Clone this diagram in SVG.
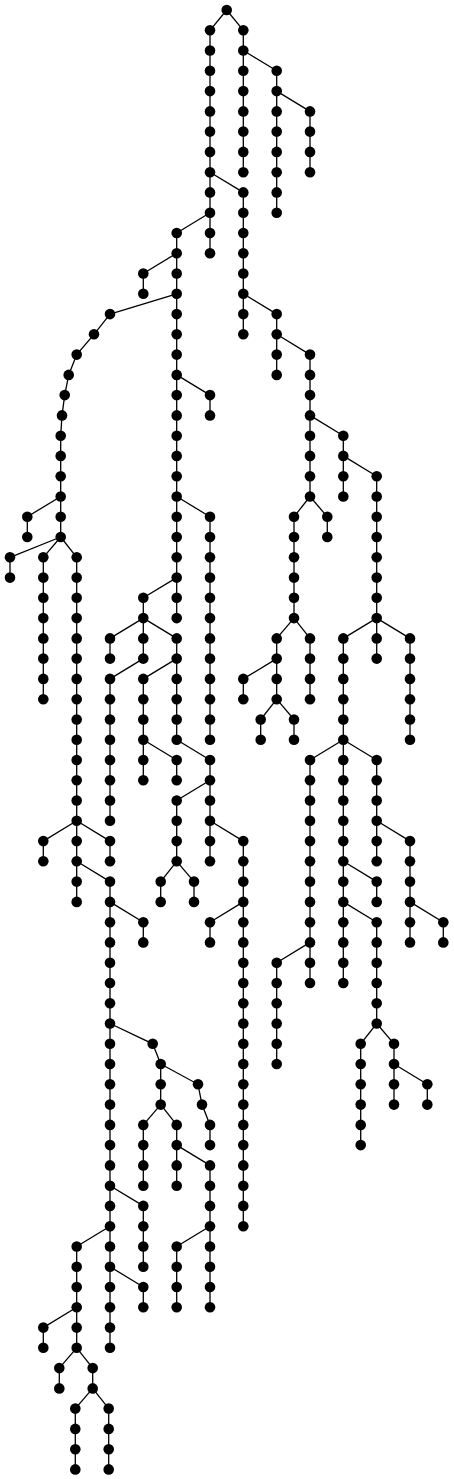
<svg xmlns="http://www.w3.org/2000/svg" width="454" height="1479" viewBox="0 0 454 1479">
<style>
.edges path,.edges line{stroke:#000;stroke-width:1.3;fill:none}
.node circle{fill:#000}
</style>
<rect width="454" height="1479" fill="#fff"/>
<g id="connectors" class="edges">
<!-- vertical chains -->
<path d="M210 30.3V253.2M243.3 30.3V172.2M276.7 70.8V212.7M310 111.4V172.2M243.3 192.4V334.3M276.7 314.1V374.9M310 354.6V496.5M343.3 435.7V496.5M376.7 476.2V658.6M294 516.8V618.1M327.3 516.8V537M276.7 638.4V699.2M310 638.4V699.2M243.3 678.9V699.2M260.7 719.5V739.7M294 719.5V739.7M343.3 638.4V983M410 638.4V739.7M310 760V983M376.7 760V861.3M410 841.1V942.4M443.3 922.2V942.4M376.7 881.6V901.9M376.7 922.2V1023.5M360.7 1043.8V1145.1M394 1043.8V1104.6M427.3 1084.3V1104.6M276.7 962.7V1064"/>
<path d="M176.7 233V618.1M143.3 273.5V293.8M210 395.1V415.4M210 516.8V739.7M143.3 597.8V658.6M110 638.4V658.6M176.7 638.4V739.7M110 678.9V820.8M143.3 678.9V780.3M176.7 760V780.3M210 760V861.3M176.7 800.5V861.3M160.7 881.6V901.9M194 881.6V901.9M243.3 841.1V1226.2M210 922.2V942.4"/>
<path d="M60.7 435.7V537M27.3 516.8V537M10 557.3V577.6M43.3 557.3V699.2M76.7 557.3V901.9M43.3 841.1V861.3M110 841.1V861.3M110 881.6V1347.8M143.3 922.2V942.4M160.7 1064V1104.6M210 1124.9V1145.1M143.3 1124.9V1185.7M176.7 1124.9V1185.7M210 1165.4V1307.3M176.7 1246.5V1307.3M143.3 1205.9V1266.7M76.7 1246.5V1347.8M143.3 1287V1307.3M43.3 1327.6V1347.8M59.3 1368.1V1388.4M92.7 1368.1V1388.4M75.3 1408.6V1469.4M108.7 1408.6V1469.4"/>
<!-- branch edges -->
<line x1="226.7" y1="10" x2="210" y2="30.3"/>
<line x1="226.7" y1="10" x2="243.3" y2="30.3"/>
<line x1="243.3" y1="50.5" x2="276.7" y2="70.8"/>
<line x1="276.7" y1="91.1" x2="310" y2="111.4"/>
<line x1="210" y1="172.2" x2="243.3" y2="192.4"/>
<line x1="210" y1="212.7" x2="176.7" y2="233"/>
<line x1="243.3" y1="293.8" x2="276.7" y2="314.1"/>
<line x1="276.7" y1="334.3" x2="310" y2="354.6"/>
<line x1="310" y1="415.4" x2="343.3" y2="435.7"/>
<line x1="343.3" y1="455.9" x2="376.7" y2="476.2"/>
<line x1="310" y1="496.5" x2="294" y2="516.8"/>
<line x1="310" y1="496.5" x2="327.3" y2="516.8"/>
<line x1="294" y1="618.1" x2="276.7" y2="638.4"/>
<line x1="294" y1="618.1" x2="310" y2="638.4"/>
<line x1="376.7" y1="618.1" x2="343.3" y2="638.4"/>
<line x1="376.7" y1="618.1" x2="410" y2="638.4"/>
<line x1="276.7" y1="658.6" x2="243.3" y2="678.9"/>
<line x1="276.7" y1="699.2" x2="260.7" y2="719.5"/>
<line x1="276.7" y1="699.2" x2="294" y2="719.5"/>
<line x1="343.3" y1="739.7" x2="310" y2="760"/>
<line x1="343.3" y1="739.7" x2="376.7" y2="760"/>
<line x1="376.7" y1="820.8" x2="410" y2="841.1"/>
<line x1="343.3" y1="861.3" x2="376.7" y2="881.6"/>
<line x1="343.3" y1="901.9" x2="376.7" y2="922.2"/>
<line x1="410" y1="901.9" x2="443.3" y2="922.2"/>
<line x1="310" y1="942.4" x2="276.7" y2="962.7"/>
<line x1="376.7" y1="1023.5" x2="360.7" y2="1043.8"/>
<line x1="376.7" y1="1023.5" x2="394" y2="1043.8"/>
<line x1="394" y1="1064" x2="427.3" y2="1084.3"/>
<line x1="176.7" y1="253.2" x2="143.3" y2="273.5"/>
<line x1="176.7" y1="293.8" x2="110" y2="314.1"/>
<line x1="176.7" y1="374.9" x2="210" y2="395.1"/>
<line x1="176.7" y1="496.5" x2="210" y2="516.8"/>
<line x1="176.7" y1="577.6" x2="143.3" y2="597.8"/>
<line x1="143.3" y1="618.1" x2="110" y2="638.4"/>
<line x1="143.3" y1="618.1" x2="176.7" y2="638.4"/>
<line x1="143.3" y1="658.6" x2="110" y2="678.9"/>
<line x1="176.7" y1="658.6" x2="143.3" y2="678.9"/>
<line x1="176.7" y1="739.7" x2="210" y2="760"/>
<line x1="143.3" y1="739.7" x2="176.7" y2="760"/>
<line x1="210" y1="780.3" x2="176.7" y2="800.5"/>
<line x1="210" y1="820.8" x2="243.3" y2="841.1"/>
<line x1="176.7" y1="861.3" x2="160.7" y2="881.6"/>
<line x1="176.7" y1="861.3" x2="194" y2="881.6"/>
<line x1="243.3" y1="901.9" x2="210" y2="922.2"/>
<path d="M110 314.1L94 334.3L76.7 354.6L68.7 374.9L64.7 395.1L62 415.4L60.7 435.7"/>
<line x1="60.7" y1="496.5" x2="27.3" y2="516.8"/>
<line x1="60.7" y1="537" x2="10" y2="557.3"/>
<line x1="60.7" y1="537" x2="43.3" y2="557.3"/>
<line x1="60.7" y1="537" x2="76.7" y2="557.3"/>
<line x1="76.7" y1="820.8" x2="43.3" y2="841.1"/>
<line x1="76.7" y1="820.8" x2="110" y2="841.1"/>
<line x1="76.7" y1="861.3" x2="110" y2="881.6"/>
<line x1="110" y1="901.9" x2="143.3" y2="922.2"/>
<path d="M110 1023.5L152.7 1043.8L160.7 1064"/>
<path d="M160.7 1064L198 1084.3L202 1104.6L210 1124.9"/>
<line x1="160.7" y1="1104.6" x2="143.3" y2="1124.9"/>
<line x1="160.7" y1="1104.6" x2="176.7" y2="1124.9"/>
<line x1="176.7" y1="1145.1" x2="210" y2="1165.4"/>
<line x1="210" y1="1226.2" x2="176.7" y2="1246.5"/>
<line x1="110" y1="1185.7" x2="143.3" y2="1205.9"/>
<line x1="110" y1="1226.2" x2="76.7" y2="1246.5"/>
<line x1="110" y1="1266.7" x2="143.3" y2="1287"/>
<line x1="76.7" y1="1307.3" x2="43.3" y2="1327.6"/>
<line x1="76.7" y1="1347.8" x2="59.3" y2="1368.1"/>
<line x1="76.7" y1="1347.8" x2="92.7" y2="1368.1"/>
<line x1="92.7" y1="1388.4" x2="75.3" y2="1408.6"/>
<line x1="92.7" y1="1388.4" x2="108.7" y2="1408.6"/>
</g>
<g id="nodes" class="node">
<g id="n1"><circle cx="226.7" cy="10" r="5.3"/></g>
<g id="n2"><circle cx="210" cy="30.3" r="5.3"/></g>
<g id="n3"><circle cx="210" cy="50.5" r="5.3"/></g>
<g id="n4"><circle cx="210" cy="70.8" r="5.3"/></g>
<g id="n5"><circle cx="210" cy="91.1" r="5.3"/></g>
<g id="n6"><circle cx="210" cy="111.4" r="5.3"/></g>
<g id="n7"><circle cx="210" cy="131.6" r="5.3"/></g>
<g id="n8"><circle cx="210" cy="151.9" r="5.3"/></g>
<g id="n9"><circle cx="210" cy="172.2" r="5.3"/></g>
<g id="n10"><circle cx="210" cy="192.4" r="5.3"/></g>
<g id="n11"><circle cx="210" cy="212.7" r="5.3"/></g>
<g id="n12"><circle cx="210" cy="233" r="5.3"/></g>
<g id="n13"><circle cx="210" cy="253.2" r="5.3"/></g>
<g id="n14"><circle cx="243.3" cy="30.3" r="5.3"/></g>
<g id="n15"><circle cx="243.3" cy="50.5" r="5.3"/></g>
<g id="n16"><circle cx="243.3" cy="70.8" r="5.3"/></g>
<g id="n17"><circle cx="243.3" cy="91.1" r="5.3"/></g>
<g id="n18"><circle cx="243.3" cy="111.4" r="5.3"/></g>
<g id="n19"><circle cx="243.3" cy="131.6" r="5.3"/></g>
<g id="n20"><circle cx="243.3" cy="151.9" r="5.3"/></g>
<g id="n21"><circle cx="243.3" cy="172.2" r="5.3"/></g>
<g id="n22"><circle cx="276.7" cy="70.8" r="5.3"/></g>
<g id="n23"><circle cx="276.7" cy="91.1" r="5.3"/></g>
<g id="n24"><circle cx="276.7" cy="111.4" r="5.3"/></g>
<g id="n25"><circle cx="276.7" cy="131.6" r="5.3"/></g>
<g id="n26"><circle cx="276.7" cy="151.9" r="5.3"/></g>
<g id="n27"><circle cx="276.7" cy="172.2" r="5.3"/></g>
<g id="n28"><circle cx="276.7" cy="192.4" r="5.3"/></g>
<g id="n29"><circle cx="276.7" cy="212.7" r="5.3"/></g>
<g id="n30"><circle cx="310" cy="111.4" r="5.3"/></g>
<g id="n31"><circle cx="310" cy="131.6" r="5.3"/></g>
<g id="n32"><circle cx="310" cy="151.9" r="5.3"/></g>
<g id="n33"><circle cx="310" cy="172.2" r="5.3"/></g>
<g id="n34"><circle cx="243.3" cy="192.4" r="5.3"/></g>
<g id="n35"><circle cx="243.3" cy="212.7" r="5.3"/></g>
<g id="n36"><circle cx="243.3" cy="233" r="5.3"/></g>
<g id="n37"><circle cx="243.3" cy="253.2" r="5.3"/></g>
<g id="n38"><circle cx="243.3" cy="273.5" r="5.3"/></g>
<g id="n39"><circle cx="243.3" cy="293.8" r="5.3"/></g>
<g id="n40"><circle cx="243.3" cy="314.1" r="5.3"/></g>
<g id="n41"><circle cx="243.3" cy="334.3" r="5.3"/></g>
<g id="n42"><circle cx="276.7" cy="314.1" r="5.3"/></g>
<g id="n43"><circle cx="276.7" cy="334.3" r="5.3"/></g>
<g id="n44"><circle cx="276.7" cy="354.6" r="5.3"/></g>
<g id="n45"><circle cx="276.7" cy="374.9" r="5.3"/></g>
<g id="n46"><circle cx="310" cy="354.6" r="5.3"/></g>
<g id="n47"><circle cx="310" cy="374.9" r="5.3"/></g>
<g id="n48"><circle cx="310" cy="395.1" r="5.3"/></g>
<g id="n49"><circle cx="310" cy="415.4" r="5.3"/></g>
<g id="n50"><circle cx="310" cy="435.7" r="5.3"/></g>
<g id="n51"><circle cx="310" cy="455.9" r="5.3"/></g>
<g id="n52"><circle cx="310" cy="476.2" r="5.3"/></g>
<g id="n53"><circle cx="310" cy="496.5" r="5.3"/></g>
<g id="n54"><circle cx="343.3" cy="435.7" r="5.3"/></g>
<g id="n55"><circle cx="343.3" cy="455.9" r="5.3"/></g>
<g id="n56"><circle cx="343.3" cy="476.2" r="5.3"/></g>
<g id="n57"><circle cx="343.3" cy="496.5" r="5.3"/></g>
<g id="n58"><circle cx="376.7" cy="476.2" r="5.3"/></g>
<g id="n59"><circle cx="376.7" cy="496.5" r="5.3"/></g>
<g id="n60"><circle cx="376.7" cy="516.8" r="5.3"/></g>
<g id="n61"><circle cx="376.7" cy="537" r="5.3"/></g>
<g id="n62"><circle cx="376.7" cy="557.3" r="5.3"/></g>
<g id="n63"><circle cx="376.7" cy="577.6" r="5.3"/></g>
<g id="n64"><circle cx="376.7" cy="597.8" r="5.3"/></g>
<g id="n65"><circle cx="376.7" cy="618.1" r="5.3"/></g>
<g id="n66"><circle cx="376.7" cy="638.4" r="5.3"/></g>
<g id="n67"><circle cx="376.7" cy="658.6" r="5.3"/></g>
<g id="n68"><circle cx="294" cy="516.8" r="5.3"/></g>
<g id="n69"><circle cx="294" cy="537" r="5.3"/></g>
<g id="n70"><circle cx="294" cy="557.3" r="5.3"/></g>
<g id="n71"><circle cx="294" cy="577.6" r="5.3"/></g>
<g id="n72"><circle cx="294" cy="597.8" r="5.3"/></g>
<g id="n73"><circle cx="294" cy="618.1" r="5.3"/></g>
<g id="n74"><circle cx="327.3" cy="516.8" r="5.3"/></g>
<g id="n75"><circle cx="327.3" cy="537" r="5.3"/></g>
<g id="n76"><circle cx="276.7" cy="638.4" r="5.3"/></g>
<g id="n77"><circle cx="276.7" cy="658.6" r="5.3"/></g>
<g id="n78"><circle cx="276.7" cy="678.9" r="5.3"/></g>
<g id="n79"><circle cx="276.7" cy="699.2" r="5.3"/></g>
<g id="n80"><circle cx="310" cy="638.4" r="5.3"/></g>
<g id="n81"><circle cx="310" cy="658.6" r="5.3"/></g>
<g id="n82"><circle cx="310" cy="678.9" r="5.3"/></g>
<g id="n83"><circle cx="310" cy="699.2" r="5.3"/></g>
<g id="n84"><circle cx="243.3" cy="678.9" r="5.3"/></g>
<g id="n85"><circle cx="243.3" cy="699.2" r="5.3"/></g>
<g id="n86"><circle cx="260.7" cy="719.5" r="5.3"/></g>
<g id="n87"><circle cx="260.7" cy="739.7" r="5.3"/></g>
<g id="n88"><circle cx="294" cy="719.5" r="5.3"/></g>
<g id="n89"><circle cx="294" cy="739.7" r="5.3"/></g>
<g id="n90"><circle cx="343.3" cy="638.4" r="5.3"/></g>
<g id="n91"><circle cx="343.3" cy="658.6" r="5.3"/></g>
<g id="n92"><circle cx="343.3" cy="678.9" r="5.3"/></g>
<g id="n93"><circle cx="343.3" cy="699.2" r="5.3"/></g>
<g id="n94"><circle cx="343.3" cy="719.5" r="5.3"/></g>
<g id="n95"><circle cx="343.3" cy="739.7" r="5.3"/></g>
<g id="n96"><circle cx="343.3" cy="760" r="5.3"/></g>
<g id="n97"><circle cx="343.3" cy="780.3" r="5.3"/></g>
<g id="n98"><circle cx="343.3" cy="800.5" r="5.3"/></g>
<g id="n99"><circle cx="343.3" cy="820.8" r="5.3"/></g>
<g id="n100"><circle cx="343.3" cy="841.1" r="5.3"/></g>
<g id="n101"><circle cx="343.3" cy="861.3" r="5.3"/></g>
<g id="n102"><circle cx="343.3" cy="881.6" r="5.3"/></g>
<g id="n103"><circle cx="343.3" cy="901.9" r="5.3"/></g>
<g id="n104"><circle cx="343.3" cy="922.2" r="5.3"/></g>
<g id="n105"><circle cx="343.3" cy="942.4" r="5.3"/></g>
<g id="n106"><circle cx="343.3" cy="962.7" r="5.3"/></g>
<g id="n107"><circle cx="343.3" cy="983" r="5.3"/></g>
<g id="n108"><circle cx="410" cy="638.4" r="5.3"/></g>
<g id="n109"><circle cx="410" cy="658.6" r="5.3"/></g>
<g id="n110"><circle cx="410" cy="678.9" r="5.3"/></g>
<g id="n111"><circle cx="410" cy="699.2" r="5.3"/></g>
<g id="n112"><circle cx="410" cy="719.5" r="5.3"/></g>
<g id="n113"><circle cx="410" cy="739.7" r="5.3"/></g>
<g id="n114"><circle cx="310" cy="760" r="5.3"/></g>
<g id="n115"><circle cx="310" cy="780.3" r="5.3"/></g>
<g id="n116"><circle cx="310" cy="800.5" r="5.3"/></g>
<g id="n117"><circle cx="310" cy="820.8" r="5.3"/></g>
<g id="n118"><circle cx="310" cy="841.1" r="5.3"/></g>
<g id="n119"><circle cx="310" cy="861.3" r="5.3"/></g>
<g id="n120"><circle cx="310" cy="881.6" r="5.3"/></g>
<g id="n121"><circle cx="310" cy="901.9" r="5.3"/></g>
<g id="n122"><circle cx="310" cy="922.2" r="5.3"/></g>
<g id="n123"><circle cx="310" cy="942.4" r="5.3"/></g>
<g id="n124"><circle cx="310" cy="962.7" r="5.3"/></g>
<g id="n125"><circle cx="310" cy="983" r="5.3"/></g>
<g id="n126"><circle cx="376.7" cy="760" r="5.3"/></g>
<g id="n127"><circle cx="376.7" cy="780.3" r="5.3"/></g>
<g id="n128"><circle cx="376.7" cy="800.5" r="5.3"/></g>
<g id="n129"><circle cx="376.7" cy="820.8" r="5.3"/></g>
<g id="n130"><circle cx="376.7" cy="841.1" r="5.3"/></g>
<g id="n131"><circle cx="376.7" cy="861.3" r="5.3"/></g>
<g id="n132"><circle cx="410" cy="841.1" r="5.3"/></g>
<g id="n133"><circle cx="410" cy="861.3" r="5.3"/></g>
<g id="n134"><circle cx="410" cy="881.6" r="5.3"/></g>
<g id="n135"><circle cx="410" cy="901.9" r="5.3"/></g>
<g id="n136"><circle cx="410" cy="922.2" r="5.3"/></g>
<g id="n137"><circle cx="410" cy="942.4" r="5.3"/></g>
<g id="n138"><circle cx="443.3" cy="922.2" r="5.3"/></g>
<g id="n139"><circle cx="443.3" cy="942.4" r="5.3"/></g>
<g id="n140"><circle cx="376.7" cy="881.6" r="5.3"/></g>
<g id="n141"><circle cx="376.7" cy="901.9" r="5.3"/></g>
<g id="n142"><circle cx="376.7" cy="922.2" r="5.3"/></g>
<g id="n143"><circle cx="376.7" cy="942.4" r="5.3"/></g>
<g id="n144"><circle cx="376.7" cy="962.7" r="5.3"/></g>
<g id="n145"><circle cx="376.7" cy="983" r="5.3"/></g>
<g id="n146"><circle cx="376.7" cy="1003.2" r="5.3"/></g>
<g id="n147"><circle cx="376.7" cy="1023.5" r="5.3"/></g>
<g id="n148"><circle cx="360.7" cy="1043.8" r="5.3"/></g>
<g id="n149"><circle cx="360.7" cy="1064" r="5.3"/></g>
<g id="n150"><circle cx="360.7" cy="1084.3" r="5.3"/></g>
<g id="n151"><circle cx="360.7" cy="1104.6" r="5.3"/></g>
<g id="n152"><circle cx="360.7" cy="1124.9" r="5.3"/></g>
<g id="n153"><circle cx="360.7" cy="1145.1" r="5.3"/></g>
<g id="n154"><circle cx="394" cy="1043.8" r="5.3"/></g>
<g id="n155"><circle cx="394" cy="1064" r="5.3"/></g>
<g id="n156"><circle cx="394" cy="1084.3" r="5.3"/></g>
<g id="n157"><circle cx="394" cy="1104.6" r="5.3"/></g>
<g id="n158"><circle cx="427.3" cy="1084.3" r="5.3"/></g>
<g id="n159"><circle cx="427.3" cy="1104.6" r="5.3"/></g>
<g id="n160"><circle cx="276.7" cy="962.7" r="5.3"/></g>
<g id="n161"><circle cx="276.7" cy="983" r="5.3"/></g>
<g id="n162"><circle cx="276.7" cy="1003.2" r="5.3"/></g>
<g id="n163"><circle cx="276.7" cy="1023.5" r="5.3"/></g>
<g id="n164"><circle cx="276.7" cy="1043.8" r="5.3"/></g>
<g id="n165"><circle cx="276.7" cy="1064" r="5.3"/></g>
<g id="n166"><circle cx="176.7" cy="233" r="5.3"/></g>
<g id="n167"><circle cx="176.7" cy="253.2" r="5.3"/></g>
<g id="n168"><circle cx="176.7" cy="273.5" r="5.3"/></g>
<g id="n169"><circle cx="176.7" cy="293.8" r="5.3"/></g>
<g id="n170"><circle cx="176.7" cy="314.1" r="5.3"/></g>
<g id="n171"><circle cx="176.7" cy="334.3" r="5.3"/></g>
<g id="n172"><circle cx="176.7" cy="354.6" r="5.3"/></g>
<g id="n173"><circle cx="176.7" cy="374.9" r="5.3"/></g>
<g id="n174"><circle cx="176.7" cy="395.1" r="5.3"/></g>
<g id="n175"><circle cx="176.7" cy="415.4" r="5.3"/></g>
<g id="n176"><circle cx="176.7" cy="435.7" r="5.3"/></g>
<g id="n177"><circle cx="176.7" cy="455.9" r="5.3"/></g>
<g id="n178"><circle cx="176.7" cy="476.2" r="5.3"/></g>
<g id="n179"><circle cx="176.7" cy="496.5" r="5.3"/></g>
<g id="n180"><circle cx="176.7" cy="516.8" r="5.3"/></g>
<g id="n181"><circle cx="176.7" cy="537" r="5.3"/></g>
<g id="n182"><circle cx="176.7" cy="557.3" r="5.3"/></g>
<g id="n183"><circle cx="176.7" cy="577.6" r="5.3"/></g>
<g id="n184"><circle cx="176.7" cy="597.8" r="5.3"/></g>
<g id="n185"><circle cx="176.7" cy="618.1" r="5.3"/></g>
<g id="n186"><circle cx="143.3" cy="273.5" r="5.3"/></g>
<g id="n187"><circle cx="143.3" cy="293.8" r="5.3"/></g>
<g id="n188"><circle cx="210" cy="395.1" r="5.3"/></g>
<g id="n189"><circle cx="210" cy="415.4" r="5.3"/></g>
<g id="n190"><circle cx="210" cy="516.8" r="5.3"/></g>
<g id="n191"><circle cx="210" cy="537" r="5.3"/></g>
<g id="n192"><circle cx="210" cy="557.3" r="5.3"/></g>
<g id="n193"><circle cx="210" cy="577.6" r="5.3"/></g>
<g id="n194"><circle cx="210" cy="597.8" r="5.3"/></g>
<g id="n195"><circle cx="210" cy="618.1" r="5.3"/></g>
<g id="n196"><circle cx="210" cy="638.4" r="5.3"/></g>
<g id="n197"><circle cx="210" cy="658.6" r="5.3"/></g>
<g id="n198"><circle cx="210" cy="678.9" r="5.3"/></g>
<g id="n199"><circle cx="210" cy="699.2" r="5.3"/></g>
<g id="n200"><circle cx="210" cy="719.5" r="5.3"/></g>
<g id="n201"><circle cx="210" cy="739.7" r="5.3"/></g>
<g id="n202"><circle cx="143.3" cy="597.8" r="5.3"/></g>
<g id="n203"><circle cx="143.3" cy="618.1" r="5.3"/></g>
<g id="n204"><circle cx="143.3" cy="638.4" r="5.3"/></g>
<g id="n205"><circle cx="143.3" cy="658.6" r="5.3"/></g>
<g id="n206"><circle cx="110" cy="638.4" r="5.3"/></g>
<g id="n207"><circle cx="110" cy="658.6" r="5.3"/></g>
<g id="n208"><circle cx="176.7" cy="638.4" r="5.3"/></g>
<g id="n209"><circle cx="176.7" cy="658.6" r="5.3"/></g>
<g id="n210"><circle cx="176.7" cy="678.9" r="5.3"/></g>
<g id="n211"><circle cx="176.7" cy="699.2" r="5.3"/></g>
<g id="n212"><circle cx="176.7" cy="719.5" r="5.3"/></g>
<g id="n213"><circle cx="176.7" cy="739.7" r="5.3"/></g>
<g id="n214"><circle cx="110" cy="678.9" r="5.3"/></g>
<g id="n215"><circle cx="110" cy="699.2" r="5.3"/></g>
<g id="n216"><circle cx="110" cy="719.5" r="5.3"/></g>
<g id="n217"><circle cx="110" cy="739.7" r="5.3"/></g>
<g id="n218"><circle cx="110" cy="760" r="5.3"/></g>
<g id="n219"><circle cx="110" cy="780.3" r="5.3"/></g>
<g id="n220"><circle cx="110" cy="800.5" r="5.3"/></g>
<g id="n221"><circle cx="110" cy="820.8" r="5.3"/></g>
<g id="n222"><circle cx="143.3" cy="678.9" r="5.3"/></g>
<g id="n223"><circle cx="143.3" cy="699.2" r="5.3"/></g>
<g id="n224"><circle cx="143.3" cy="719.5" r="5.3"/></g>
<g id="n225"><circle cx="143.3" cy="739.7" r="5.3"/></g>
<g id="n226"><circle cx="143.3" cy="760" r="5.3"/></g>
<g id="n227"><circle cx="143.3" cy="780.3" r="5.3"/></g>
<g id="n228"><circle cx="176.7" cy="760" r="5.3"/></g>
<g id="n229"><circle cx="176.7" cy="780.3" r="5.3"/></g>
<g id="n230"><circle cx="210" cy="760" r="5.3"/></g>
<g id="n231"><circle cx="210" cy="780.3" r="5.3"/></g>
<g id="n232"><circle cx="210" cy="800.5" r="5.3"/></g>
<g id="n233"><circle cx="210" cy="820.8" r="5.3"/></g>
<g id="n234"><circle cx="210" cy="841.1" r="5.3"/></g>
<g id="n235"><circle cx="210" cy="861.3" r="5.3"/></g>
<g id="n236"><circle cx="176.7" cy="800.5" r="5.3"/></g>
<g id="n237"><circle cx="176.7" cy="820.8" r="5.3"/></g>
<g id="n238"><circle cx="176.7" cy="841.1" r="5.3"/></g>
<g id="n239"><circle cx="176.7" cy="861.3" r="5.3"/></g>
<g id="n240"><circle cx="160.7" cy="881.6" r="5.3"/></g>
<g id="n241"><circle cx="160.7" cy="901.9" r="5.3"/></g>
<g id="n242"><circle cx="194" cy="881.6" r="5.3"/></g>
<g id="n243"><circle cx="194" cy="901.9" r="5.3"/></g>
<g id="n244"><circle cx="243.3" cy="841.1" r="5.3"/></g>
<g id="n245"><circle cx="243.3" cy="861.3" r="5.3"/></g>
<g id="n246"><circle cx="243.3" cy="881.6" r="5.3"/></g>
<g id="n247"><circle cx="243.3" cy="901.9" r="5.3"/></g>
<g id="n248"><circle cx="243.3" cy="922.2" r="5.3"/></g>
<g id="n249"><circle cx="243.3" cy="942.4" r="5.3"/></g>
<g id="n250"><circle cx="243.3" cy="962.7" r="5.3"/></g>
<g id="n251"><circle cx="243.3" cy="983" r="5.3"/></g>
<g id="n252"><circle cx="243.3" cy="1003.2" r="5.3"/></g>
<g id="n253"><circle cx="243.3" cy="1023.5" r="5.3"/></g>
<g id="n254"><circle cx="243.3" cy="1043.8" r="5.3"/></g>
<g id="n255"><circle cx="243.3" cy="1064" r="5.3"/></g>
<g id="n256"><circle cx="243.3" cy="1084.3" r="5.3"/></g>
<g id="n257"><circle cx="243.3" cy="1104.6" r="5.3"/></g>
<g id="n258"><circle cx="243.3" cy="1124.9" r="5.3"/></g>
<g id="n259"><circle cx="243.3" cy="1145.1" r="5.3"/></g>
<g id="n260"><circle cx="243.3" cy="1165.4" r="5.3"/></g>
<g id="n261"><circle cx="243.3" cy="1185.7" r="5.3"/></g>
<g id="n262"><circle cx="243.3" cy="1205.9" r="5.3"/></g>
<g id="n263"><circle cx="243.3" cy="1226.2" r="5.3"/></g>
<g id="n264"><circle cx="210" cy="922.2" r="5.3"/></g>
<g id="n265"><circle cx="210" cy="942.4" r="5.3"/></g>
<g id="n266"><circle cx="110" cy="314.1" r="5.3"/></g>
<g id="n267"><circle cx="94" cy="334.3" r="5.3"/></g>
<g id="n268"><circle cx="76.7" cy="354.6" r="5.3"/></g>
<g id="n269"><circle cx="68.7" cy="374.9" r="5.3"/></g>
<g id="n270"><circle cx="64.7" cy="395.1" r="5.3"/></g>
<g id="n271"><circle cx="62" cy="415.4" r="5.3"/></g>
<g id="n272"><circle cx="60.7" cy="435.7" r="5.3"/></g>
<g id="n273"><circle cx="60.7" cy="455.9" r="5.3"/></g>
<g id="n274"><circle cx="60.7" cy="476.2" r="5.3"/></g>
<g id="n275"><circle cx="60.7" cy="496.5" r="5.3"/></g>
<g id="n276"><circle cx="60.7" cy="516.8" r="5.3"/></g>
<g id="n277"><circle cx="60.7" cy="537" r="5.3"/></g>
<g id="n278"><circle cx="27.3" cy="516.8" r="5.3"/></g>
<g id="n279"><circle cx="27.3" cy="537" r="5.3"/></g>
<g id="n280"><circle cx="10" cy="557.3" r="5.3"/></g>
<g id="n281"><circle cx="10" cy="577.6" r="5.3"/></g>
<g id="n282"><circle cx="43.3" cy="557.3" r="5.3"/></g>
<g id="n283"><circle cx="43.3" cy="577.6" r="5.3"/></g>
<g id="n284"><circle cx="43.3" cy="597.8" r="5.3"/></g>
<g id="n285"><circle cx="43.3" cy="618.1" r="5.3"/></g>
<g id="n286"><circle cx="43.3" cy="638.4" r="5.3"/></g>
<g id="n287"><circle cx="43.3" cy="658.6" r="5.3"/></g>
<g id="n288"><circle cx="43.3" cy="678.9" r="5.3"/></g>
<g id="n289"><circle cx="43.3" cy="699.2" r="5.3"/></g>
<g id="n290"><circle cx="76.7" cy="557.3" r="5.3"/></g>
<g id="n291"><circle cx="76.7" cy="577.6" r="5.3"/></g>
<g id="n292"><circle cx="76.7" cy="597.8" r="5.3"/></g>
<g id="n293"><circle cx="76.7" cy="618.1" r="5.3"/></g>
<g id="n294"><circle cx="76.7" cy="638.4" r="5.3"/></g>
<g id="n295"><circle cx="76.7" cy="658.6" r="5.3"/></g>
<g id="n296"><circle cx="76.7" cy="678.9" r="5.3"/></g>
<g id="n297"><circle cx="76.7" cy="699.2" r="5.3"/></g>
<g id="n298"><circle cx="76.7" cy="719.5" r="5.3"/></g>
<g id="n299"><circle cx="76.7" cy="739.7" r="5.3"/></g>
<g id="n300"><circle cx="76.7" cy="760" r="5.3"/></g>
<g id="n301"><circle cx="76.7" cy="780.3" r="5.3"/></g>
<g id="n302"><circle cx="76.7" cy="800.5" r="5.3"/></g>
<g id="n303"><circle cx="76.7" cy="820.8" r="5.3"/></g>
<g id="n304"><circle cx="76.7" cy="841.1" r="5.3"/></g>
<g id="n305"><circle cx="76.7" cy="861.3" r="5.3"/></g>
<g id="n306"><circle cx="76.7" cy="881.6" r="5.3"/></g>
<g id="n307"><circle cx="76.7" cy="901.9" r="5.3"/></g>
<g id="n308"><circle cx="43.3" cy="841.1" r="5.3"/></g>
<g id="n309"><circle cx="43.3" cy="861.3" r="5.3"/></g>
<g id="n310"><circle cx="110" cy="841.1" r="5.3"/></g>
<g id="n311"><circle cx="110" cy="861.3" r="5.3"/></g>
<g id="n312"><circle cx="110" cy="881.6" r="5.3"/></g>
<g id="n313"><circle cx="110" cy="901.9" r="5.3"/></g>
<g id="n314"><circle cx="110" cy="922.2" r="5.3"/></g>
<g id="n315"><circle cx="110" cy="942.4" r="5.3"/></g>
<g id="n316"><circle cx="110" cy="962.7" r="5.3"/></g>
<g id="n317"><circle cx="110" cy="983" r="5.3"/></g>
<g id="n318"><circle cx="110" cy="1003.2" r="5.3"/></g>
<g id="n319"><circle cx="110" cy="1023.5" r="5.3"/></g>
<g id="n320"><circle cx="110" cy="1043.8" r="5.3"/></g>
<g id="n321"><circle cx="110" cy="1064" r="5.3"/></g>
<g id="n322"><circle cx="110" cy="1084.3" r="5.3"/></g>
<g id="n323"><circle cx="110" cy="1104.6" r="5.3"/></g>
<g id="n324"><circle cx="110" cy="1124.9" r="5.3"/></g>
<g id="n325"><circle cx="110" cy="1145.1" r="5.3"/></g>
<g id="n326"><circle cx="110" cy="1165.4" r="5.3"/></g>
<g id="n327"><circle cx="110" cy="1185.7" r="5.3"/></g>
<g id="n328"><circle cx="110" cy="1205.9" r="5.3"/></g>
<g id="n329"><circle cx="110" cy="1226.2" r="5.3"/></g>
<g id="n330"><circle cx="110" cy="1246.5" r="5.3"/></g>
<g id="n331"><circle cx="110" cy="1266.7" r="5.3"/></g>
<g id="n332"><circle cx="110" cy="1287" r="5.3"/></g>
<g id="n333"><circle cx="110" cy="1307.3" r="5.3"/></g>
<g id="n334"><circle cx="110" cy="1327.6" r="5.3"/></g>
<g id="n335"><circle cx="110" cy="1347.8" r="5.3"/></g>
<g id="n336"><circle cx="143.3" cy="922.2" r="5.3"/></g>
<g id="n337"><circle cx="143.3" cy="942.4" r="5.3"/></g>
<g id="n338"><circle cx="152.7" cy="1043.8" r="5.3"/></g>
<g id="n339"><circle cx="160.7" cy="1064" r="5.3"/></g>
<g id="n340"><circle cx="160.7" cy="1084.3" r="5.3"/></g>
<g id="n341"><circle cx="160.7" cy="1104.6" r="5.3"/></g>
<g id="n342"><circle cx="198" cy="1084.3" r="5.3"/></g>
<g id="n343"><circle cx="202" cy="1104.6" r="5.3"/></g>
<g id="n344"><circle cx="210" cy="1124.9" r="5.3"/></g>
<g id="n345"><circle cx="210" cy="1145.1" r="5.3"/></g>
<g id="n346"><circle cx="143.3" cy="1124.9" r="5.3"/></g>
<g id="n347"><circle cx="143.3" cy="1145.1" r="5.3"/></g>
<g id="n348"><circle cx="143.3" cy="1165.4" r="5.3"/></g>
<g id="n349"><circle cx="143.3" cy="1185.7" r="5.3"/></g>
<g id="n350"><circle cx="176.7" cy="1124.9" r="5.3"/></g>
<g id="n351"><circle cx="176.7" cy="1145.1" r="5.3"/></g>
<g id="n352"><circle cx="176.7" cy="1165.4" r="5.3"/></g>
<g id="n353"><circle cx="176.7" cy="1185.7" r="5.3"/></g>
<g id="n354"><circle cx="210" cy="1165.4" r="5.3"/></g>
<g id="n355"><circle cx="210" cy="1185.7" r="5.3"/></g>
<g id="n356"><circle cx="210" cy="1205.9" r="5.3"/></g>
<g id="n357"><circle cx="210" cy="1226.2" r="5.3"/></g>
<g id="n358"><circle cx="210" cy="1246.5" r="5.3"/></g>
<g id="n359"><circle cx="210" cy="1266.7" r="5.3"/></g>
<g id="n360"><circle cx="210" cy="1287" r="5.3"/></g>
<g id="n361"><circle cx="210" cy="1307.3" r="5.3"/></g>
<g id="n362"><circle cx="176.7" cy="1246.5" r="5.3"/></g>
<g id="n363"><circle cx="176.7" cy="1266.7" r="5.3"/></g>
<g id="n364"><circle cx="176.7" cy="1287" r="5.3"/></g>
<g id="n365"><circle cx="176.7" cy="1307.3" r="5.3"/></g>
<g id="n366"><circle cx="143.3" cy="1205.9" r="5.3"/></g>
<g id="n367"><circle cx="143.3" cy="1226.2" r="5.3"/></g>
<g id="n368"><circle cx="143.3" cy="1246.5" r="5.3"/></g>
<g id="n369"><circle cx="143.3" cy="1266.7" r="5.3"/></g>
<g id="n370"><circle cx="76.7" cy="1246.5" r="5.3"/></g>
<g id="n371"><circle cx="76.7" cy="1266.7" r="5.3"/></g>
<g id="n372"><circle cx="76.7" cy="1287" r="5.3"/></g>
<g id="n373"><circle cx="76.7" cy="1307.3" r="5.3"/></g>
<g id="n374"><circle cx="76.7" cy="1327.6" r="5.3"/></g>
<g id="n375"><circle cx="76.7" cy="1347.8" r="5.3"/></g>
<g id="n376"><circle cx="143.3" cy="1287" r="5.3"/></g>
<g id="n377"><circle cx="143.3" cy="1307.3" r="5.3"/></g>
<g id="n378"><circle cx="43.3" cy="1327.6" r="5.3"/></g>
<g id="n379"><circle cx="43.3" cy="1347.8" r="5.3"/></g>
<g id="n380"><circle cx="59.3" cy="1368.1" r="5.3"/></g>
<g id="n381"><circle cx="59.3" cy="1388.4" r="5.3"/></g>
<g id="n382"><circle cx="92.7" cy="1368.1" r="5.3"/></g>
<g id="n383"><circle cx="92.7" cy="1388.4" r="5.3"/></g>
<g id="n384"><circle cx="75.3" cy="1408.6" r="5.3"/></g>
<g id="n385"><circle cx="75.3" cy="1428.9" r="5.3"/></g>
<g id="n386"><circle cx="75.3" cy="1449.2" r="5.3"/></g>
<g id="n387"><circle cx="75.3" cy="1469.4" r="5.3"/></g>
<g id="n388"><circle cx="108.7" cy="1408.6" r="5.3"/></g>
<g id="n389"><circle cx="108.7" cy="1428.9" r="5.3"/></g>
<g id="n390"><circle cx="108.7" cy="1449.2" r="5.3"/></g>
<g id="n391"><circle cx="108.7" cy="1469.4" r="5.3"/></g>
</g>
</svg>
